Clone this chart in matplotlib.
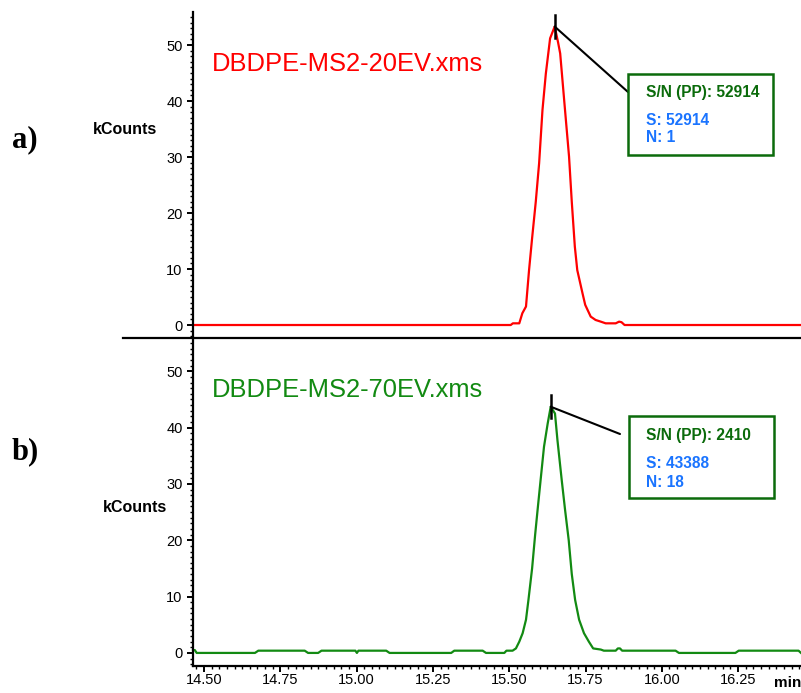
import matplotlib
matplotlib.use("Agg")
import matplotlib.pyplot as plt
from matplotlib.patches import Rectangle
from matplotlib.lines import Line2D
from matplotlib.ticker import MultipleLocator, FormatStrFormatter
import numpy as np

plt.rcParams['font.family'] = ['Liberation Sans', 'DejaVu Sans']

# ---------------- data ----------------
file_a = "DBDPE-MS2-20EV.xms"
file_b = "DBDPE-MS2-70EV.xms"

t_a = [14.464, 15.505, 15.512, 15.533, 15.543, 15.555, 15.565, 15.575, 15.587,
       15.598, 15.609, 15.620, 15.634, 15.649, 15.660, 15.667, 15.680, 15.696,
       15.705, 15.715, 15.723, 15.740, 15.749, 15.767, 15.783, 15.800, 15.816,
       15.849, 15.860, 15.868, 15.878, 16.456]
v_a = [0.0, 0.0, 0.3, 0.3, 2.1, 3.3, 9.8, 15.5, 22.0,
       28.9, 38.4, 44.9, 51.2, 53.3, 50.5, 48.5, 40.2, 30.1,
       22.0, 14.0, 9.8, 5.7, 3.6, 1.5, 0.9, 0.6, 0.3,
       0.3, 0.6, 0.5, 0.0, 0.0]

t_b = [14.464, 14.470, 14.476, 14.667, 14.678, 14.830, 14.841, 14.874, 14.885,
       14.996, 15.001, 15.006, 15.097, 15.108, 15.310, 15.320, 15.413, 15.424,
       15.484, 15.491, 15.511, 15.522, 15.533, 15.544, 15.555, 15.563, 15.575,
       15.585, 15.593, 15.604, 15.614, 15.626, 15.636, 15.650, 15.658, 15.672,
       15.683, 15.695, 15.705, 15.716, 15.729, 15.745, 15.761, 15.775, 15.800,
       15.810, 15.849, 15.856, 15.863, 15.870, 16.045, 16.056, 16.241, 16.252,
       16.448, 16.456]
v_b = [0.5, 0.5, 0.0, 0.0, 0.4, 0.4, 0.0, 0.0, 0.4,
       0.4, 0.0, 0.4, 0.4, 0.0, 0.0, 0.4, 0.4, 0.0,
       0.0, 0.4, 0.4, 0.8, 2.0, 3.5, 5.9, 9.4, 15.0,
       21.0, 25.4, 31.3, 36.6, 40.7, 43.7, 42.5, 37.8, 30.7,
       25.4, 20.0, 14.0, 9.4, 5.9, 3.5, 2.0, 0.8, 0.6,
       0.4, 0.4, 0.8, 0.8, 0.4, 0.4, 0.0, 0.0, 0.4,
       0.4, 0.0]

sn_a = ["S/N (PP): 52914", "S: 52914", "N: 1"]
sn_b = ["S/N (PP): 2410", "S: 43388", "N: 18"]

x_ticks = [14.50, 14.75, 15.00, 15.25, 15.50, 15.75, 16.00, 16.25]
y_ticks = [0, 10, 20, 30, 40, 50]

# ---------------- layout ----------------
W, H = 801, 693
fig = plt.figure(figsize=(W / 100, H / 100), dpi=100)

def fx(px):
    return px / W

def fy(py):
    return 1 - py / H

RED = "#ff0000"
GREEN = "#128a12"
DKGREEN = "#0b6b0b"
BLUE = "#1a74ff"

xlim = (14.464, 16.456)
ylim = (-2.32, 55.9)

ax_a = fig.add_axes([fx(193), fy(338), fx(801) - fx(193), fy(12) - fy(338)])
ax_b = fig.add_axes([fx(193), fy(666), fx(801) - fx(193), fy(338) - fy(666)])

for ax in (ax_a, ax_b):
    ax.set_xlim(*xlim)
    ax.set_ylim(*ylim)
    for s in ("top", "right"):
        ax.spines[s].set_visible(False)
    ax.spines["left"].set_linewidth(1.6)
    ax.spines["bottom"].set_linewidth(1.6)
    ax.set_yticks(y_ticks)
    ax.yaxis.set_minor_locator(MultipleLocator(1))
    ax.tick_params(axis="y", which="major", direction="out", length=4.5, width=1.4,
                   labelsize=10.5, pad=3)
    ax.tick_params(axis="y", which="minor", direction="out", length=2.2, width=1.0)
    ax.patch.set_visible(False)

ax_a.spines["bottom"].set_visible(False)
ax_a.set_xticks([])
ax_a.tick_params(axis="x", which="both", bottom=False, labelbottom=False)

ax_b.set_xticks(x_ticks)
ax_b.xaxis.set_major_formatter(FormatStrFormatter("%.2f"))
ax_b.xaxis.set_minor_locator(MultipleLocator(0.025))
ax_b.tick_params(axis="x", which="major", direction="out", length=4, width=1.4,
                 labelsize=10.5, pad=1)
ax_b.tick_params(axis="x", which="minor", direction="out", length=2.2, width=1.0)

ax_a.plot(t_a, v_a, color=RED, lw=1.6, clip_on=False)
ax_b.plot(t_b, v_b, color=GREEN, lw=1.6, clip_on=False)

# separator line between panels
fig.add_artist(Line2D([fx(123), fx(801)], [fy(338), fy(338)], color="black", lw=1.6,
                      transform=fig.transFigure))

# file names
ax_a.text(fx(212), fy(71), file_a, transform=fig.transFigure, color=RED,
          fontsize=18.4, va="baseline", ha="left")
ax_b.text(fx(212), fy(397), file_b, transform=fig.transFigure, color=GREEN,
          fontsize=18.4, va="baseline", ha="left")

# panel labels and axis titles
fig.text(fx(12), fy(140), "a)", family=["Liberation Serif", "DejaVu Serif"],
         weight="bold", fontsize=22, va="center", ha="left")
fig.text(fx(12), fy(452), "b)", family=["Liberation Serif", "DejaVu Serif"],
         weight="bold", fontsize=22, va="center", ha="left")
fig.text(fx(93), fy(129), "kCounts", weight="bold", fontsize=11.5, va="center", ha="left")
fig.text(fx(103), fy(507), "kCounts", weight="bold", fontsize=11.5, va="center", ha="left")
fig.text(fx(801), fy(683), "min", weight="bold", fontsize=11, va="center", ha="right")

# S/N annotations
def sn_annot(ax, t, v, box, line_end, tick_half, texts, ty):
    i = int(np.argmax(v))
    tp, vp = t[i], v[i]
    ax.plot([tp, tp], [vp - tick_half, vp + tick_half], color="black", lw=1.8,
            clip_on=False)
    ax.annotate("", xy=(tp, vp), xycoords="data",
                xytext=(line_end[0], H - line_end[1]), textcoords="figure pixels",
                arrowprops=dict(arrowstyle="-", color="black", lw=1.5,
                                shrinkA=0, shrinkB=0))
    x0, y0, x1, y1 = box
    fig.add_artist(Rectangle((fx(x0), fy(y1)), fx(x1) - fx(x0), fy(y0) - fy(y1),
                             transform=fig.transFigure, fill=False,
                             ec=DKGREEN, lw=1.8))
    fig.text(fx(646), fy(ty[0]), texts[0], color=DKGREEN, weight="bold",
             fontsize=11.2, va="baseline")
    fig.text(fx(646), fy(ty[1]), texts[1], color=BLUE, weight="bold",
             fontsize=11.2, va="baseline")
    fig.text(fx(646), fy(ty[2]), texts[2], color=BLUE, weight="bold",
             fontsize=11.2, va="baseline")

sn_annot(ax_a, t_a, v_a, (628, 74, 773, 155), (628, 92), 2.0, sn_a, (97, 125, 142))
sn_annot(ax_b, t_b, v_b, (629, 416, 774, 498), (620, 434), 2.0, sn_b, (440, 468, 487))

fig.savefig("out.png", dpi=100)
